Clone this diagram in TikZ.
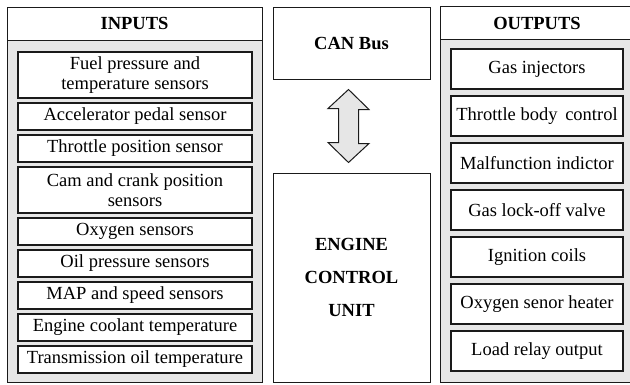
\documentclass[tikz,border=0pt]{standalone}
\usepackage{fontspec}
\setmainfont{Liberation Serif}
\usetikzlibrary{positioning, calc}
\definecolor{cpanel}{HTML}{E6E6E6}
\definecolor{cline}{HTML}{1A1A1A}
\tikzset{
  every picture/.style={line width=1pt},
  panel/.style={draw=cline, fill=cpanel, line width=1pt},
  head/.style={draw=cline, fill=white, font=\fontsize{18.5}{20}\selectfont\bfseries, minimum height=33pt, inner sep=0pt},
  item/.style={draw=cline, fill=white, line width=1.4pt, align=center, inner sep=1pt, font=\fontsize{18.5}{20}\selectfont},
  midbox/.style={draw=cline, fill=white, line width=1pt, minimum width=157pt, align=center, font=\fontsize{18.5}{33}\selectfont\bfseries},
}

\begin{document}
\begin{tikzpicture}[x=1pt, y=-1pt, inb/.style={item, minimum width=234pt, minimum height=#1}, inb/.default=27pt, outb/.style={item, minimum width=172pt, minimum height=40pt}]
  \useasboundingbox (0,0) rectangle (630,384);
  \clip (0,0) rectangle (630,384);
  % inputs panel
  \draw[panel] (7,7) rectangle (262,382);
  \node[head, minimum width=255pt] (inhead) at (134.5,23.5) {INPUTS};
  \node[inb=46pt] (fuel) at (135,75) {Fuel pressure and\\temperature sensors};
  \node[inb, below=3.6pt of fuel] (pedal) {Accelerator pedal sensor};
  \node[inb, below=3.6pt of pedal] (thr) {Throttle position sensor};
  \node[inb=46pt, below=3.6pt of thr] (cam) {Cam and crank position\\sensors};
  \node[inb, below=3.6pt of cam] (oxy) {Oxygen sensors};
  \node[inb, below=3.6pt of oxy] (oil) {Oil pressure sensors};
  \node[inb, below=3.6pt of oil] (map) {MAP and speed sensors};
  \node[inb, below=3.6pt of map] (cool) {Engine coolant temperature};
  \node[inb, below=3.6pt of cool] (trans) {Transmission oil temperature};
  % CAN bus and ECU
  \node[midbox, minimum height=72pt] (can) at (351.5,43) {CAN Bus};
  \node[midbox, minimum height=209pt] (ecu) at (351.5,277.5) {ENGINE\\CONTROL\\UNIT};
  \draw[draw=cline, fill=cpanel] ($(can.south)+(-3,10)$) -- ++(20.5,20) -- ++(-10.5,0) -- ++(0,34) -- ++(10.5,0)
    -- ($(ecu.north)+(-3,-10)$) -- ++(-20.5,-20) -- ++(10.5,0) -- ++(0,-34) -- ++(-10.5,0) -- cycle;
  % outputs panel
  \draw[panel] (440,6) rectangle (634,382);
  \node[head, minimum width=194pt] (outhead) at (537,23) {OUTPUTS};
  \node[outb] (inj) at (537,69) {Gas injectors};
  \node[outb, below=5.6pt of inj] (body) {Throttle body\, control};
  \node[outb, below=5.6pt of body] (mil) {Malfunction indictor};
  \node[outb, below=5.6pt of mil] (lock) {Gas lock-off valve};
  \node[outb, below=5.6pt of lock] (coil) {Ignition coils};
  \node[outb, below=5.6pt of coil] (heat) {Oxygen senor heater};
  \node[outb, below=5.6pt of heat] (relay) {Load relay output};
\end{tikzpicture}
\end{document}
